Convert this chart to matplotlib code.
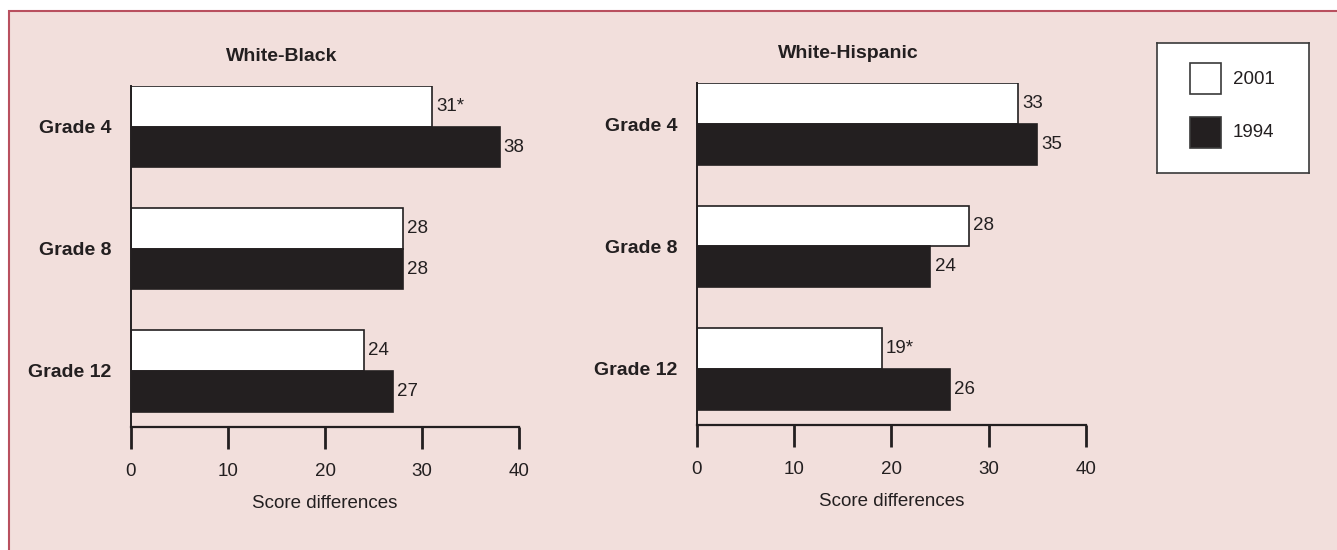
import matplotlib.pyplot as plt
from matplotlib.patches import Rectangle
import numpy as np

plt.rcParams['font.family'] = ['Liberation Sans Narrow', 'Liberation Sans', 'DejaVu Sans']

# data
grades = ['Grade 4', 'Grade 8', 'Grade 12']
years = ['2001', '1994']

wb_2001 = [31, 28, 24]
wb_1994 = [38, 28, 27]
wb_sig_2001 = [True, False, False]

wh_2001 = [33, 28, 19]
wh_1994 = [35, 24, 26]
wh_sig_2001 = [False, False, True]

BG = '#f2dfdc'
BORDER = '#b9505f'
DARK = '#231f20'
TXT = '#231f20'


def gap_panel(ax, title, v2001, v1994, sig2001):
    y = np.arange(len(grades))
    h = 1 / 3
    b1 = ax.barh(y - h / 2, v2001, height=h, color='white', edgecolor=DARK, linewidth=1.2)
    b2 = ax.barh(y + h / 2, v1994, height=h, color=DARK, edgecolor=DARK, linewidth=1.2)
    ax.bar_label(b1, labels=[f'{v}*' if s else f'{v}' for v, s in zip(v2001, sig2001)],
                 padding=3, fontsize=13.5, color=TXT)
    ax.bar_label(b2, labels=[str(v) for v in v1994], padding=3, fontsize=13.5, color=TXT)

    ax.set_xlim(0, 40)
    ax.set_ylim(2.46, -0.333)
    ax.set_facecolor('none')
    for s in ['top', 'right']:
        ax.spines[s].set_visible(False)
    ax.spines['left'].set_linewidth(1.4)
    ax.spines['bottom'].set_linewidth(1.6)
    ax.spines['left'].set_color(DARK)
    ax.spines['bottom'].set_color(DARK)

    ax.set_xticks([0, 10, 20, 30, 40])
    ax.tick_params(axis='x', length=16, width=2, color=DARK, pad=10, labelsize=13.5, labelcolor=TXT)
    ax.set_yticks(y)
    ax.set_yticklabels(grades, fontweight='bold', fontsize=14, color=TXT)
    ax.tick_params(axis='y', length=0, pad=14)
    ax.set_xlabel('Score differences', fontsize=13.5, color=TXT, labelpad=11)
    ax.set_title(title, x=0.388, pad=18, fontweight='bold', fontsize=14, color=TXT)


fig = plt.figure(figsize=(13.37, 5.5), dpi=100, facecolor='white')
fig.patches.append(Rectangle((9 / 1337, -0.05), 1.1, 1.03, transform=fig.transFigure,
                             facecolor=BG, edgecolor=BORDER, linewidth=1.5, zorder=-10))

ax1 = fig.add_axes([131 / 1337, 123 / 550, 388 / 1337, 341 / 550])
ax2 = fig.add_axes([697 / 1337, 125 / 550, 389 / 1337, 341.7 / 550])
gap_panel(ax1, 'White-Black', wb_2001, wb_1994, wb_sig_2001)
gap_panel(ax2, 'White-Hispanic', wh_2001, wh_1994, wh_sig_2001)

# legend box
lax = fig.add_axes([1157 / 1337, 377 / 550, 152 / 1337, 130 / 550])
lax.set_xlim(0, 152)
lax.set_ylim(130, 0)
lax.set_xticks([])
lax.set_yticks([])
lax.set_facecolor('white')
for s in lax.spines.values():
    s.set_color('#3a3a3a')
    s.set_linewidth(1.2)
for i, (yr, fc) in enumerate(zip(years, ['white', DARK])):
    top = 20 + i * 53.5
    lax.add_patch(Rectangle((33, top), 31, 31, facecolor=fc, edgecolor='#3a3a3a', linewidth=1.2))
    lax.text(76, top + 16, yr, va='center', ha='left', fontsize=13.5, color=TXT)

fig.savefig('out.png', dpi=100, facecolor=fig.get_facecolor())
